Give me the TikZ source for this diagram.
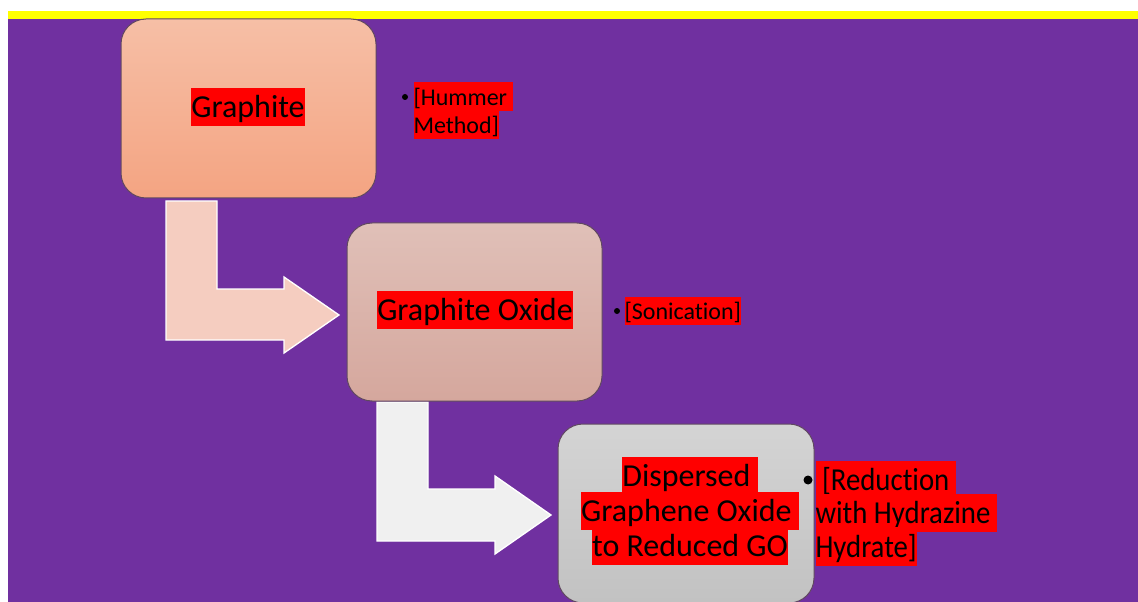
\documentclass[tikz,border=0pt]{standalone}
\usepackage{fontspec}
\setmainfont[Ligatures=NoCommon]{Carlito}
\newfontfamily\narrowfont[FakeStretch=0.9, Ligatures=NoCommon]{Carlito}
\lineskiplimit=-100pt
\newcommand{\redmark}[1]{{\setlength{\fboxsep}{0pt}\colorbox{red}{\rule[-0.26em]{0pt}{1.2em}#1}}}

\tikzset{every picture/.style={line width=0.75pt}}
\tikzset{
  stepbox/.style={draw={rgb, 255:red, 96; green, 72; blue, 96 }, rounded corners=18.75pt},
  bendarrow/.style={draw={rgb, 255:red, 255; green, 255; blue, 255 }, line width=1pt, line join=miter},
  bigtext/.style={inner sep=0pt, text=black, font=\fontsize{24}{26.25}\selectfont},
  notetext/.style={inner sep=0pt, text=black, font=\fontsize{18}{21}\selectfont},
}

\begin{document}
\begin{tikzpicture}[x=0.75pt,y=0.75pt,yscale=-1,xscale=1]
\useasboundingbox[fill=white] (0,0) rectangle (1138,602);

%Shape: Rectangle (slide)
\fill [color={rgb, 255:red, 112; green, 48; blue, 160 }] (8,19) rectangle (1138,602);
%Shape: Rectangle (top band)
\fill [color={rgb, 255:red, 255; green, 255; blue, 0 }] (8,11) rectangle (1138,19);

%Shape: Bent Arrow 1
\draw [bendarrow, fill={rgb, 255:red, 245; green, 205; blue, 192 }] (166,201) -- (217,201) -- (217,289) -- (284,289) -- (284,277) -- (339,315) -- (284,353) -- (284,340) -- (166,340) -- cycle ;
%Shape: Bent Arrow 2
\draw [bendarrow, fill={rgb, 255:red, 240; green, 240; blue, 240 }] (377,402) -- (428,402) -- (428,489) -- (495,489) -- (495,476) -- (551,515) -- (495,554) -- (495,541) -- (377,541) -- cycle ;

%Rounded Rect 1
\draw [stepbox, top color={rgb, 255:red, 246; green, 191; blue, 166 }, bottom color={rgb, 255:red, 244; green, 164; blue, 130 }] (121,19) rectangle (376,198) ;
%Rounded Rect 2
\draw [stepbox, top color={rgb, 255:red, 224; green, 192; blue, 184 }, bottom color={rgb, 255:red, 213; green, 167; blue, 157 }] (347,223) rectangle (602,401) ;
%Rounded Rect 3
\draw [stepbox, top color={rgb, 255:red, 212; green, 212; blue, 212 }, bottom color={rgb, 255:red, 194; green, 194; blue, 194 }] (558,424) rectangle (814,603) ;

% Text Node
\node [bigtext] (graphite) at (248,107) {\redmark{Graphite}};
% Text Node
\node [bigtext] (gox) at (475,310) {\redmark{Graphite Oxide}};
% Text Node
\node [bigtext, align=center, anchor=north] (rgo) at (690,456) {\redmark{Dispersed\ }\\ \redmark{Graphene Oxide\ }\\ \redmark{to Reduced GO}};

% Bullets
\fill (405,97) circle (3) ;
\fill (617,311) circle (3) ;
\fill (808,480) circle (4.5) ;

% Text Node
\node [notetext, align=left, anchor=north west] (hummer) at (413,82) {\redmark{[Hummer\ }\\ \redmark{Method]}};
% Text Node
\node [notetext, anchor=west] (sonic) at (624,311) {\redmark{[Sonication]}};
% Text Node
\node [bigtext, align=left, anchor=north west, font=\narrowfont\fontsize{24}{25}\selectfont] (hydra) at (815,460) {\redmark{\ [Reduction\ }\\ \redmark{with Hydrazine\ }\\ \redmark{Hydrate]}};

\end{tikzpicture}
\end{document}
